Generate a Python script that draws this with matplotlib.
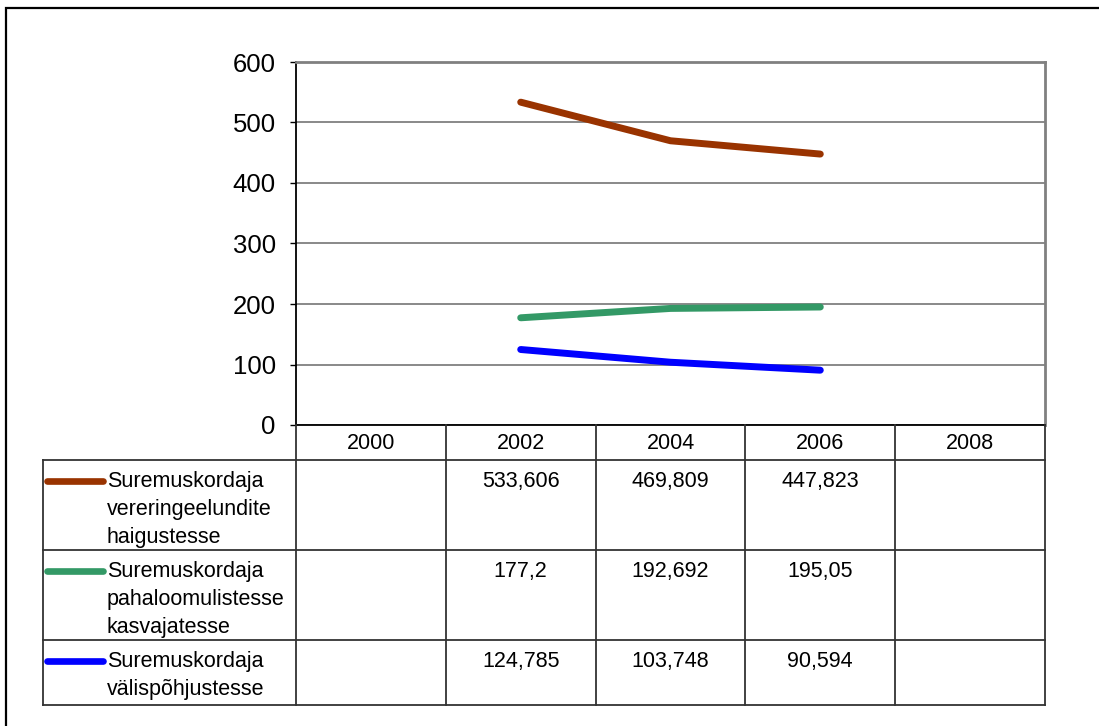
import numpy as np
import matplotlib
matplotlib.use("Agg")
import matplotlib.pyplot as plt
from matplotlib.lines import Line2D
from matplotlib.patches import Rectangle
from matplotlib.transforms import blended_transform_factory

plt.rcParams['font.family'] = ['Liberation Sans', 'DejaVu Sans']

years = ["2000", "2002", "2004", "2006", "2008"]
series_names = [
    "Suremuskordaja\nvereringeelundite\nhaigustesse",
    "Suremuskordaja\npahaloomulistesse\nkasvajatesse",
    "Suremuskordaja\nvälispõhjustesse",
]
circulatory = [np.nan, 533.606, 469.809, 447.823, np.nan]
cancer = [np.nan, 177.2, 192.692, 195.05, np.nan]
external = [np.nan, 124.785, 103.748, 90.594, np.nan]
table_text = [
    ["", "533,606", "469,809", "447,823", ""],
    ["", "177,2", "192,692", "195,05", ""],
    ["", "124,785", "103,748", "90,594", ""],
]
colors = ["#993300", "#339966", "#0000FF"]
y_ticks = [0, 100, 200, 300, 400, 500, 600]

W, H = 1099, 726
fig = plt.figure(figsize=(W / 100, H / 100), dpi=100)
fig.patch.set_facecolor("white")


def fx(x):
    return x / W


def fy(y):
    return 1 - y / H


# outer frame (right/bottom edges fall outside image)
fig.add_artist(Rectangle((fx(6), fy(760)), fx(1140) - fx(6), fy(8) - fy(760),
                         transform=fig.transFigure, fill=False,
                         edgecolor="black", linewidth=1.6))

ax = fig.add_axes([fx(296), fy(425), fx(1045) - fx(296), fy(62) - fy(425)])
ax.set_xlim(-0.5, len(years) - 0.5)
ax.set_ylim(0, 600)
ax.set_yticks(y_ticks)
ax.set_yticklabels([str(v) for v in y_ticks], fontsize=18.5)
ax.set_xticks([])
ax.tick_params(axis="y", direction="out", length=4.5, width=1.0, pad=10, colors="black")
ax.yaxis.grid(True, color="#808080", linewidth=1.3)
ax.set_axisbelow(True)
for s in ["top", "right"]:
    ax.spines[s].set_color("#808080")
    ax.spines[s].set_linewidth(2.0)
ax.spines["left"].set_color("black")
ax.spines["left"].set_linewidth(1.3)
ax.spines["bottom"].set_color("black")
ax.spines["bottom"].set_linewidth(1.3)

x = np.arange(len(years))
for vals, c in zip([circulatory, cancer, external], colors):
    ax.plot(x, vals, color=c, linewidth=5.0, solid_capstyle="round")

# data table
bt = blended_transform_factory(ax.transData, fig.transFigure)
lc = "#333333"
lw = 1.3
header_top, header_bot = 425, 460
row_bounds = [460, 550, 640, 705]
left_px = 43

for i in range(len(years) + 1):
    xb = i - 0.5
    fig.add_artist(Line2D([xb, xb], [fy(header_top), fy(row_bounds[-1])],
                          transform=bt, color=lc, linewidth=lw))
x_right_fig = ax.transAxes.transform((1, 0))[0] / W
for yb in row_bounds:
    fig.add_artist(Line2D([fx(left_px), x_right_fig], [fy(yb), fy(yb)],
                          transform=fig.transFigure, color=lc, linewidth=lw))
fig.add_artist(Line2D([fx(left_px), fx(left_px)], [fy(row_bounds[0]), fy(row_bounds[-1])],
                      transform=fig.transFigure, color=lc, linewidth=lw))

for i, yr in enumerate(years):
    fig.text(i, fy((header_top + header_bot) / 2 + 1), yr, transform=bt,
             ha="center", va="center", fontsize=15.5)

for r, (name, c) in enumerate(zip(series_names, colors)):
    top = row_bounds[r]
    fig.text(fx(107), fy(top + 11), name, transform=fig.transFigure,
             ha="left", va="top", fontsize=15.5, linespacing=1.45)
    fig.add_artist(Line2D([fx(47), fx(103)], [fy(top + 21), fy(top + 21)],
                          transform=fig.transFigure, color=c, linewidth=4.8,
                          solid_capstyle="round"))
    for i, t in enumerate(table_text[r]):
        if t:
            fig.text(i, fy(top + 11), t, transform=bt,
                     ha="center", va="top", fontsize=15.5)

fig.savefig("out.png", dpi=100)
